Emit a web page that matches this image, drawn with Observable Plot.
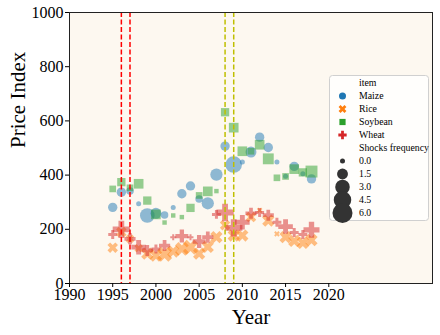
<!DOCTYPE html>
<html><head><meta charset="utf-8">
<script src="https://cdn.jsdelivr.net/npm/d3@7"></script>
<script src="https://cdn.jsdelivr.net/npm/@observablehq/plot@0.6"></script>
<style>
body{margin:0;background:#fff}
#wrap{position:relative;width:440px;height:335px}
#wrap svg.overlay{position:absolute;left:0;top:0;pointer-events:none}
</style>
</head><body><div id="wrap"></div>
<script>
const years = [1995,1996,1997,1998,1999,2000,2001,2002,2003,2004,2005,2006,2007,2008,2009,2010,2011,2012,2013,2014,2015,2016,2017,2018];
const items = ["Maize","Rice","Soybean","Wheat"];
const maizePrice   = [281,337,341,294,251,259,253,280,331,360,312,296,402,507,439,448,485,540,502,448,396,432,405,386];
const maizeShock   = [1,1,0.5,0,3,1.5,0.5,0,1,1,0.5,2,2,1,4,0,1.5,1,1,0,0,1,0,1];
const ricePrice    = [132,190,165,130,110,103,108,118,128,134,110,135,171,215,177,177,245,270,232,183,171,157,150,160];
const riceShock    = [1,1,0.5,0.5,1.5,1.5,2.5,1.5,2,2.5,1.5,1.5,1.5,1,1.5,1.5,1,0,1.5,0,1.5,1.5,1.5,1.5];
const soyPrice     = [349,374,353,368,306,255,225,251,245,279,325,340,341,632,575,488,488,512,460,390,395,422,410,413];
const soyShock     = [0.5,1,0.5,1.5,1,1.5,0,0,0,1,0.5,1.5,0,1,1.5,1.5,0.5,1.5,2,0.5,0.5,1.5,1,2.5];
const wheatPrice   = [181,200,165,134,122,127,140,171,175,171,155,171,255,262,205,226,259,262,252,226,210,188,181,198];
const wheatShock   = [0.5,3,1,2,1,0.5,1,0,1.5,0,1.5,1,0.5,3,3,2,1,0.5,1,0.5,2,0.5,0.5,2.5];
const redShockYears = [1996,1997];
const yellowShockYears = [2008,2009];
const xTicks = [1990,1995,2000,2005,2010,2015,2020];
const yTicks = [0,200,400,600,800,1000];
const sizeLegendValues = [0,1.5,3,4.5,6];
const colors = ["#1f77b4","#ff7f0e","#2ca02c","#d62728"];
const symbols = ["circle","cross","square","cross"];
const rotations = [0,45,0,0];

const series = [maizePrice, ricePrice, soyPrice, wheatPrice];
const shocks = [maizeShock, riceShock, soyShock, wheatShock];
const rows = [];
items.forEach((item, k) => years.forEach((yr, i) => rows.push({item, k, year: yr, price: series[k][i], shock: shocks[k][i]})));

const font = "Liberation Serif";
const rScale = {type: "sqrt", domain: [0, 6.4], range: [0, 10]};

const plot = Plot.plot({
  width: 440, height: 335,
  marginLeft: 69, marginRight: 8, marginTop: 12, marginBottom: 52,
  style: {fontFamily: font, fontSize: "16px", background: "white", color: "black"},
  x: {domain: [1990, 2032]},
  y: {domain: [0, 1000]},
  r: rScale,
  marks: [
    Plot.frame({fill: "#fdf8f0"}),
    ...items.map((item, k) => Plot.dot(rows.filter(d => d.k === k), {
      x: "year", y: "price", r: d => d.shock + 0.4,
      symbol: symbols[k], rotate: rotations[k],
      fill: colors[k], fillOpacity: 0.5, stroke: "none"
    })),
    Plot.ruleX(redShockYears, {stroke: "#ff0000", strokeWidth: 1.5, strokeDasharray: "5,2.5"}),
    Plot.ruleX(yellowShockYears, {stroke: "#bfbf00", strokeWidth: 1.5, strokeDasharray: "5,2.5"}),
    Plot.frame({stroke: "#222", strokeWidth: 1}),
    Plot.axisX({ticks: xTicks, tickFormat: d => String(d), tickSize: 4, tickPadding: 1.5, label: null, fontSize: 16, fontFamily: font}),
    Plot.axisY({ticks: yTicks, tickFormat: d => String(d), tickSize: 4, tickPadding: 2, label: null, fontSize: 16, fontFamily: font}),
    Plot.text(["Year"], {frameAnchor: "bottom", dy: 40, fontSize: 21, fill: "black", fontFamily: font}),
    Plot.text(["Price Index"], {frameAnchor: "left", dx: -51, rotate: -90, fontSize: 21, fill: "black", fontFamily: font})
  ]
});
document.getElementById("wrap").appendChild(plot);

// Legend overlay
const r = plot.scale("r");
const rf = v => r.apply(v + 0.4);
const ov = d3.select("#wrap").append("svg").attr("class", "overlay")
  .attr("width", 440).attr("height", 335)
  .attr("font-family", font).attr("font-size", 9.8);
ov.append("rect").attr("x", 329.5).attr("y", 75.5).attr("width", 99).attr("height", 145)
  .attr("rx", 3).attr("fill", "rgba(255,255,255,0.8)").attr("stroke", "#d0d0d0");
const mx = 342.5, tx = 359, y0 = 83, dy = 13;
const labels = ["item", ...items, "Shocks frequency", ...sizeLegendValues.map(v => v.toFixed(1))];
labels.forEach((t, i) => ov.append("text").attr("x", tx).attr("y", y0 + dy * i).attr("dy", "0.35em").text(t));
const d3sym = {circle: d3.symbolCircle, square: d3.symbolSquare, cross: d3.symbolCross};
items.forEach((item, k) => {
  const rr = 3.5;
  ov.append("path")
    .attr("d", d3.symbol(d3sym[symbols[k]], Math.PI * rr * rr)())
    .attr("transform", `translate(${mx},${y0 + dy * (k + 1)}) rotate(${rotations[k]})`)
    .attr("fill", colors[k]);
});
sizeLegendValues.forEach((v, i) => {
  ov.append("circle").attr("cx", mx).attr("cy", y0 + dy * (i + 6)).attr("r", rf(v)).attr("fill", "#333");
});
</script></body></html>
